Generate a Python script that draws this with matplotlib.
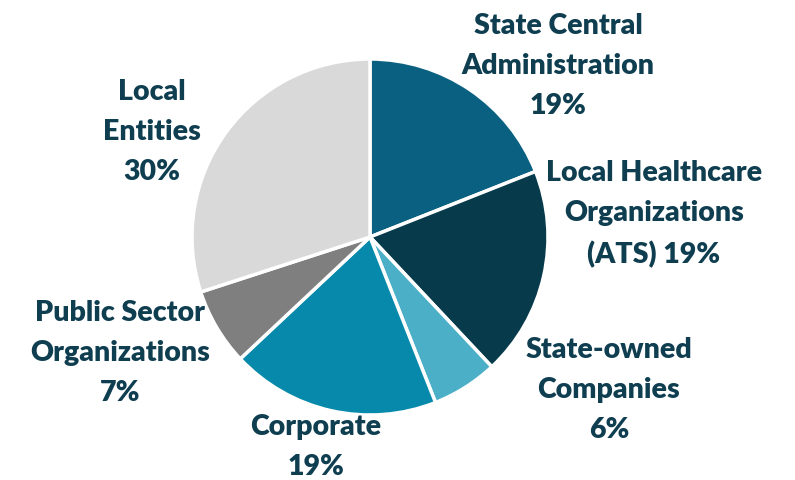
import matplotlib
matplotlib.use("Agg")
import matplotlib.pyplot as plt

categories = ["State Central\nAdministration", "Local Healthcare\nOrganizations\n(ATS)",
              "State-owned\nCompanies", "Corporate", "Public Sector\nOrganizations", "Local\nEntities"]
values = [19, 19, 6, 19, 7, 30]
label_texts = ["State Central\nAdministration\n19%", "Local Healthcare\nOrganizations\n(ATS) 19%",
               "State-owned\nCompanies\n6%", "Corporate\n19%", "Public Sector\nOrganizations\n7%",
               "Local\nEntities\n30%"]
colors = ["#0A6080", "#073B4C", "#4BAFC8", "#0689AA", "#7F7F7F", "#D9D9D9"]
# label centres in pixel coords (x, y of middle line from top)
label_pos = [(558, 66), (654, 214), (609, 390), (316, 447), (120, 353), (152, 132)]

W, H = 795, 481
fig = plt.figure(figsize=(W / 100, H / 100), dpi=100)
cx, cy, r = 370, 238, 178
ax = fig.add_axes([(cx - r) / W, (H - cy - r) / H, 2 * r / W, 2 * r / H])
ax.pie(values, colors=colors, startangle=90, counterclock=False, radius=1,
       wedgeprops=dict(edgecolor="white", linewidth=2.5))
ax.set_xlim(-1, 1)
ax.set_ylim(-1, 1)
ax.set_aspect("auto")
ax.axis("off")

for txt, (x, y) in zip(label_texts, label_pos):
    fig.text(x / W, 1 - y / H, txt, ha="center", va="center", multialignment="center",
             fontsize=20.5, fontweight="heavy", family="Lato", color="#0E3E50", linespacing=1.68)

fig.savefig("out.png", dpi=100)
